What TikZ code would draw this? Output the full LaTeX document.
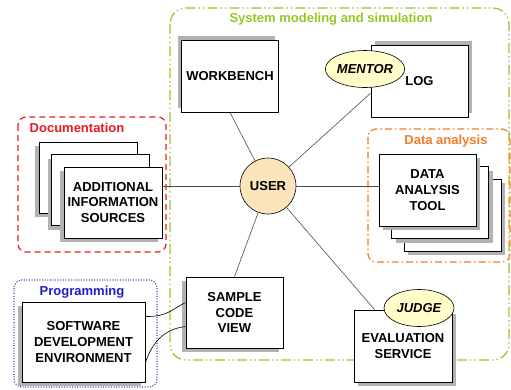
\documentclass[tikz,border=0pt]{standalone}
\usepackage{fontspec}
\setmainfont{Liberation Sans}
\usepackage{tikz}
\usetikzlibrary{shapes,shadows,positioning}
\usepackage{xcolor}

\definecolor{simgreen}{RGB}{150,200,35}
\definecolor{docred}{RGB}{235,25,35}
\definecolor{anaorange}{RGB}{240,125,40}
\definecolor{progblue}{RGB}{30,30,200}
\definecolor{progframe}{RGB}{70,70,150}
\definecolor{userfill}{RGB}{252,228,187}
\definecolor{rolefill}{RGB}{255,253,200}

\tikzset{
  toolbox/.style={draw, line width=0.9pt, fill=white, minimum width=97pt, minimum height=72pt, align=center, inner sep=2pt},
  shadowul/.style={drop shadow={shadow xshift=-4pt, shadow yshift=4pt, fill=black!30, opacity=1}},
  shadowur/.style={drop shadow={shadow xshift=4pt, shadow yshift=4pt, fill=black!30, opacity=1}},
  shadowdr/.style={drop shadow={shadow xshift=4pt, shadow yshift=-4pt, fill=black!30, opacity=1}},
  shadowdl/.style={drop shadow={shadow xshift=-4pt, shadow yshift=-4pt, fill=black!30, opacity=1}},
  rolebubble/.style={ellipse, draw, line width=0.6pt, fill=rolefill, minimum width=71pt, minimum height=37pt, inner sep=0pt},
  groupframe/.style={line width=1.2pt},
  link/.style={draw=black!70, line width=0.6pt}
}

\begin{document}
\begin{tikzpicture}[x=1pt, y=-1pt, every node/.style={font=\fontsize{13}{15.8}\selectfont\bfseries}]
    \useasboundingbox (0,0) rectangle (511,389);

    % group frames
    \draw[groupframe, simgreen, rounded corners=16pt, dash pattern=on 10pt off 3pt on 1.5pt off 3pt on 1.5pt off 3pt] (170,8) rectangle (509,360);
    \draw[groupframe, docred, rounded corners=8pt, dash pattern=on 6pt off 4pt] (18,117) rectangle (166,252);
    \draw[groupframe, anaorange, rounded corners=8pt, dash pattern=on 7pt off 3pt on 1.5pt off 3pt] (368,129) rectangle (510,262);
    \draw[groupframe, progframe, rounded corners=8pt, dash pattern=on 1pt off 1.6pt] (14,280) rectangle (157,387);

    \node[text=simgreen] (simlabel) at (331,19) {System modeling and simulation};
    \node[text=docred] (doclabel) at (77,128) {Documentation};
    \node[text=anaorange] (analabel) at (446,141) {Data analysis};
    \node[text=progblue] (proglabel) at (82,292) {Programming};

    % tools
    \node[toolbox, shadowul] (wb) at (230,76) {WORKBENCH};
    \node[toolbox, shadowur] (log) at (419.5,81) {LOG};
    \node[rolebubble] (mentor) at (365,69) {\itshape MENTOR};

    \node[toolbox, shadowdr] (dat3) at (452.5,215) {};
    \node[toolbox, shadowdr] (dat2) at (440,202.5) {};
    \node[toolbox, shadowdr] (dat) at (427.5,190) {DATA\\ANALYSIS\\TOOL};

    \node[toolbox, shadowdl, minimum width=98pt, minimum height=71pt] (add3) at (88,177.5) {};
    \node[toolbox, shadowdl, minimum width=98pt, minimum height=71pt] (add2) at (100.5,190) {};
    \node[toolbox, shadowdl, minimum width=98pt, minimum height=71pt] (add) at (113,202.5) {ADDITIONAL\\INFORMATION\\SOURCES};

    \node[toolbox, shadowdl, minimum height=71pt] (smp) at (234.5,312.5) {SAMPLE\\CODE\\VIEW};
    \node[toolbox, shadowdl, minimum width=123pt, minimum height=80pt] (sde) at (83.5,342) {SOFTWARE\\DEVELOPMENT\\ENVIRONMENT};

    \node[toolbox, shadowdr, minimum width=98pt] (eval) at (403,346) {EVALUATION\\SERVICE};
    \node[rolebubble, minimum width=70pt] (judge) at (419,308) {\itshape JUDGE};

    \node[circle, draw, line width=0.6pt, fill=userfill, minimum size=56pt, inner sep=0pt] (user) at (268,186) {USER};

    % links
    \draw[link] (user) -- (wb.south);
    \draw[link] (user) -- (log.194);
    \draw[link] (user.east) -- (user.east -| dat.west);
    \draw[link] (user.west) -- (user.west -| add.east);
    \draw[link] (user) -- (smp.north);
    \draw[link] (user) -- (eval.128);

    \draw[link, black] ([yshift=-15pt]sde.north east) .. controls +(22,0) and +(-16,8) .. ([yshift=-26pt]smp.north west);
    \draw[link, black] ([yshift=-61pt]sde.north east) .. controls +(8,-24) and +(-18,2) .. ([yshift=-50pt]smp.north west);
\end{tikzpicture}
\end{document}
